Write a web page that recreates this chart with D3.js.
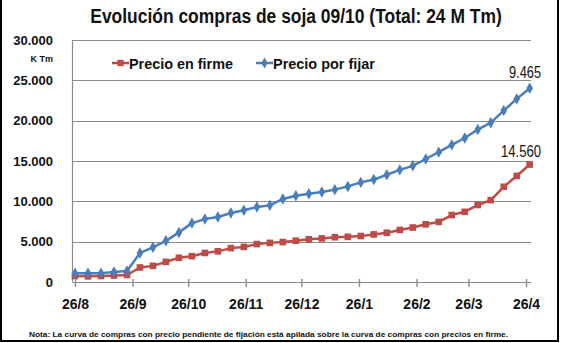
<!DOCTYPE html>
<html>
<head>
<meta charset="utf-8">
<script src="https://cdn.jsdelivr.net/npm/d3@7"></script>
<style>
  body { margin: 0; background: #fff; }
  svg { display: block; }
  text { fill: #111; }
</style>
</head>
<body>
<svg id="chart" width="562" height="343"></svg>
<script>
// weekly purchase dates (campaña 09/10)
const fechas = [
  "2009-08-26", "2009-09-02", "2009-09-09", "2009-09-16", "2009-09-23", "2009-09-30",
  "2009-10-07", "2009-10-14", "2009-10-21", "2009-10-28", "2009-11-04", "2009-11-11",
  "2009-11-18", "2009-11-25", "2009-12-02", "2009-12-09", "2009-12-16", "2009-12-23",
  "2009-12-30", "2010-01-06", "2010-01-13", "2010-01-20", "2010-01-27", "2010-02-03",
  "2010-02-10", "2010-02-17", "2010-02-24", "2010-03-03", "2010-03-10", "2010-03-17",
  "2010-03-24", "2010-03-31", "2010-04-07", "2010-04-14", "2010-04-21", "2010-04-28"
];

// K Tm, precio en firme
const precioFirme = [
  750, 700, 750, 800, 870, 1800, 2000, 2500, 3000, 3200, 3600, 3800,
  4200, 4350, 4700, 4850, 4950, 5120, 5300, 5400, 5550, 5600, 5700, 5900,
  6100, 6450, 6750, 7150, 7450, 8300, 8700, 9550, 10150, 11800, 13150, 14560
];

// K Tm, precio por fijar (stacked on top of precio en firme)
const precioPorFijar = [
  350, 400, 350, 450, 500, 1800, 2300, 2600, 3150, 4100, 4200, 4250,
  4350, 4550, 4600, 4650, 5350, 5580, 5650, 5750, 5900, 6250, 6650, 6800,
  7200, 7450, 7650, 8100, 8650, 8700, 9150, 9350, 9600, 9450, 9550, 9465
];

const yTicks = [0, 5000, 10000, 15000, 20000, 25000, 30000];
const xTickFechas = ["2009-08-26", "2009-09-26", "2009-10-26", "2009-11-26", "2009-12-26",
  "2010-01-26", "2010-02-26", "2010-03-26", "2010-04-26"];
const xTickLabels = ["26/8", "26/9", "26/10", "26/11", "26/12", "26/1", "26/2", "26/3", "26/4"];

const colors = {
  firme: "#BE4B48",
  fijar: "#4A7EBB",
  grid: "#8a8a8a",
  axis: "#8a8a8a"
};

const fontSans = "'Liberation Sans', Arial, sans-serif";
const fmt = v => d3.format(",")(v).replace(/,/g, ".");

const parse = d3.utcParse("%Y-%m-%d");
const rows = fechas.map((f, i) => ({ fecha: parse(f), firme: precioFirme[i], fijar: precioPorFijar[i] }));

const svg = d3.select("#chart");
const plot = { left: 72.5, right: 531, top: 40, bottom: 282 };

const x = d3.scaleUtc()
  .domain([parse(xTickFechas[0]), parse(xTickFechas[xTickFechas.length - 1])])
  .range([75, 526]);
const y = d3.scaleLinear().domain([0, 30000]).range([plot.bottom, plot.top]);

// outer frame
svg.append("path")
  .attr("d", `M1,0 V341 H558 V0`)
  .attr("fill", "none")
  .attr("stroke", "#000")
  .attr("stroke-width", 2);

// title: squeeze horizontally to a narrow look
const title = svg.append("text")
  .attr("text-anchor", "middle")
  .style("font-family", fontSans)
  .style("font-size", "20.5px")
  .style("font-weight", "bold")
  .text("Evolución compras de soja 09/10 (Total: 24 M Tm)");
const titleScale = 412 / title.node().getComputedTextLength();
title.attr("transform", `translate(296,23) scale(${titleScale},1)`);

// gridlines
svg.append("g")
  .selectAll("line")
  .data(yTicks.filter(d => d > 0))
  .join("line")
  .attr("x1", plot.left).attr("x2", plot.right)
  .attr("y1", d => Math.round(y(d)) + 0.5).attr("y2", d => Math.round(y(d)) + 0.5)
  .attr("stroke", colors.grid)
  .attr("stroke-width", 1.2);

// y axis line
svg.append("line")
  .attr("x1", plot.left).attr("x2", plot.left)
  .attr("y1", plot.top).attr("y2", plot.bottom)
  .attr("stroke", colors.axis)
  .attr("stroke-width", 1.2);

// y tick labels
svg.append("g")
  .selectAll("text")
  .data(yTicks)
  .join("text")
  .attr("x", 53)
  .attr("y", d => y(d) + 4.5)
  .attr("text-anchor", "end")
  .style("font-family", fontSans)
  .style("font-size", "13px")
  .style("font-weight", "bold")
  .text(fmt);

svg.append("text")
  .attr("x", 53).attr("y", 62)
  .attr("text-anchor", "end")
  .style("font-family", fontSans)
  .style("font-size", "9px")
  .style("font-weight", "bold")
  .text("K Tm");

// x axis
const xAxis = d3.axisBottom(x)
  .tickValues(xTickFechas.map(parse))
  .tickFormat((d, i) => xTickLabels[i])
  .tickSizeInner(5)
  .tickSizeOuter(0)
  .tickPadding(12);

const gx = svg.append("g")
  .attr("transform", `translate(0,${plot.bottom})`)
  .call(xAxis);
gx.select(".domain")
  .attr("d", `M${plot.left},0.5H${plot.right}`)
  .attr("stroke", colors.axis)
  .attr("stroke-width", 1.2);
gx.selectAll(".tick line")
  .attr("y1", -3)
  .attr("stroke", colors.axis)
  .attr("stroke-width", 1.4);
gx.selectAll(".tick text")
  .style("font-family", fontSans)
  .style("font-size", "14px")
  .style("font-weight", "bold")
  .attr("fill", "#111");

// stacked series
const stacked = d3.stack().keys(["firme", "fijar"])(rows);

const line = d3.line()
  .x(d => x(d.data.fecha))
  .y(d => y(d[1]));

const series = [
  { key: "firme", color: colors.firme, marker: d3.symbolSquare, size: 44 },
  { key: "fijar", color: colors.fijar, marker: d3.symbolDiamond, size: 38 }
];

series.forEach((s, k) => {
  const layer = stacked[k];
  svg.append("path")
    .datum(layer)
    .attr("d", line)
    .attr("fill", "none")
    .attr("stroke", s.color)
    .attr("stroke-width", 2.5)
    .attr("stroke-linejoin", "round");

  svg.append("g")
    .selectAll("path")
    .data(layer)
    .join("path")
    .attr("transform", d => `translate(${x(d.data.fecha)},${y(d[1])})`)
    .attr("d", d3.symbol().type(s.marker).size(s.size))
    .attr("fill", s.color);
});

// end labels
const last = rows[rows.length - 1];
svg.append("text")
  .attr("x", 541).attr("y", y(last.firme + last.fijar) - 10)
  .attr("text-anchor", "end")
  .style("font-family", fontSans)
  .style("font-size", "16px")
  .attr("textLength", 32)
  .attr("lengthAdjust", "spacingAndGlyphs")
  .text(fmt(last.fijar));

svg.append("text")
  .attr("x", 541).attr("y", y(last.firme) - 8)
  .attr("text-anchor", "end")
  .style("font-family", fontSans)
  .style("font-size", "17px")
  .attr("textLength", 40)
  .attr("lengthAdjust", "spacingAndGlyphs")
  .text(fmt(last.firme));

// legend
const legend = [
  { label: "Precio en firme", color: colors.firme, marker: d3.symbolSquare, size: 40, x: 112, w: 104 },
  { label: "Precio por fijar", color: colors.fijar, marker: d3.symbolDiamond, size: 34, x: 256, w: 102 }
];
const lg = svg.append("g").selectAll("g").data(legend).join("g")
  .attr("transform", d => `translate(${d.x},63)`);
lg.append("line")
  .attr("x1", 0).attr("x2", 17)
  .attr("stroke", d => d.color)
  .attr("stroke-width", 2.5);
lg.append("path")
  .attr("transform", "translate(8.5,0)")
  .attr("d", d => d3.symbol().type(d.marker).size(d.size)())
  .attr("fill", d => d.color);
lg.append("text")
  .attr("x", 17).attr("y", 5.5)
  .attr("textLength", d => d.w)
  .attr("lengthAdjust", "spacingAndGlyphs")
  .style("font-family", fontSans)
  .style("font-size", "15.5px")
  .style("font-weight", "bold")
  .text(d => d.label);

// footnote
svg.append("text")
  .attr("x", 29).attr("y", 337)
  .attr("textLength", 479)
  .attr("lengthAdjust", "spacingAndGlyphs")
  .style("font-family", fontSans)
  .style("font-size", "8px")
  .style("font-weight", "bold")
  .text("Nota: La curva de compras con precio pendiente de fijación está apilada sobre la curva de compras con precios en firme.");
</script>
</body>
</html>
